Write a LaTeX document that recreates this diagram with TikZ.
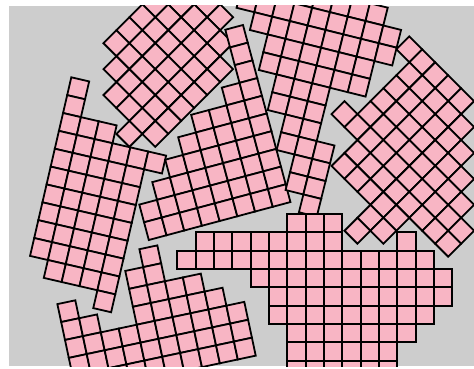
\documentclass[tikz,border=0pt]{standalone}
\usepackage{xcolor}
\definecolor{tilepink}{RGB}{248,181,196}
\definecolor{bggray}{RGB}{205,205,205}
\tikzset{tilecell/.style={fill=tilepink,draw=black,line width=1.8pt,line join=miter}}
\newcommand\tilerow[2]{\foreach \ii in {#2}{\path[tilecell] (\ii*18.33,#1*18.33) rectangle ++(18.33,18.33);}}
\begin{document}
\begin{tikzpicture}[x=1pt,y=-1pt]
\useasboundingbox (0,0) rectangle (474,369);
\fill[white] (0,0) rectangle (474,369);
\fill[bggray] (9,6) rectangle (474,366);
\begin{scope}
\clip (9,6) rectangle (474,366);
% group A (top left, 45 deg)
\begin{scope}[shift={(155.3,-8.66)},rotate=-45]
\tilerow{-2}{2,3}
\tilerow{-1}{1,...,4}
\tilerow{0}{0,...,5}
\tilerow{1}{0,...,5}
\tilerow{2}{0,...,5}
\tilerow{3}{0,...,5}
\tilerow{4}{1,...,5}
\tilerow{5}{2,...,5}
\tilerow{6}{4}
\end{scope}
% group F (right, 45 deg)
\begin{scope}[shift={(409.3,36.34)},rotate=-45]
\tilerow{0}{0,...,4}
\tilerow{1}{1,...,5}
\tilerow{2}{1,...,6}
\tilerow{3}{1,...,7}
\tilerow{4}{1,...,8}
\tilerow{5}{0,...,9}
\tilerow{6}{2,...,9}
\tilerow{7}{2,...,6}
\tilerow{8}{5,6}
\tilerow{9}{5}
\end{scope}
% group C (left)
\begin{scope}[shift={(71.3,77.3)},rotate=-13]
\tilerow{0}{0}
\tilerow{1}{0}
\tilerow{2}{0,1,2}
\tilerow{3}{0,...,5}
\tilerow{4}{0,...,4}
\tilerow{5}{0,...,4}
\tilerow{6}{0,...,4}
\tilerow{7}{0,...,4}
\tilerow{8}{0,...,4}
\tilerow{9}{0,...,4}
\tilerow{10}{1,...,4}
\tilerow{11}{4}
\end{scope}
% group D (centre)
\begin{scope}[shift={(243,25)},rotate=15]
\tilerow{0}{-1}
\tilerow{1}{-1}
\tilerow{2}{-1}
\tilerow{3}{-2,-1}
\tilerow{4}{-4,...,-1}
\tilerow{5}{-5,...,-1}
\tilerow{6}{-6,...,-1}
\tilerow{7}{-7,...,-1}
\tilerow{8}{-8,...,-1}
\tilerow{9}{-8,...,-1}
\end{scope}
% group B+E (top centre and strip)
\begin{scope}[shift={(241,-10)},rotate=-14]
\tilerow{-1}{3,...,7}
\tilerow{0}{0,...,8}
\tilerow{1}{1,...,8}
\tilerow{2}{2,...,7}
\tilerow{3}{2,...,7}
\tilerow{4}{3,4,5}
\tilerow{5}{3,4,5}
\tilerow{6}{4,5}
\tilerow{7}{4,5,6}
\tilerow{8}{5,6}
\tilerow{9}{5,6}
\tilerow{10}{6}
\end{scope}
% group H (bottom left)
\begin{scope}[shift={(139.4,249.2)},rotate=12]
\tilerow{0}{0}
\tilerow{1}{-1,0}
\tilerow{2}{-5,-1,0,1,2}
\tilerow{3}{-5,-4,-1,0,1,2,3}
\tilerow{4}{-5,...,4}
\tilerow{5}{-5,...,4}
\tilerow{6}{-5,...,4}
\end{scope}
% group G (bottom right, axis aligned)
\begin{scope}[shift={(177.33,214)}]
\tilerow{0}{6,7,8}
\tilerow{1}{1,...,8,12}
\tilerow{2}{0,...,13}
\tilerow{3}{4,...,14}
\tilerow{4}{5,...,14}
\tilerow{5}{5,...,13}
\tilerow{6}{6,...,12}
\tilerow{7}{6,...,11}
\tilerow{8}{6,...,11}
\end{scope}
\end{scope}
\end{tikzpicture}
\end{document}
